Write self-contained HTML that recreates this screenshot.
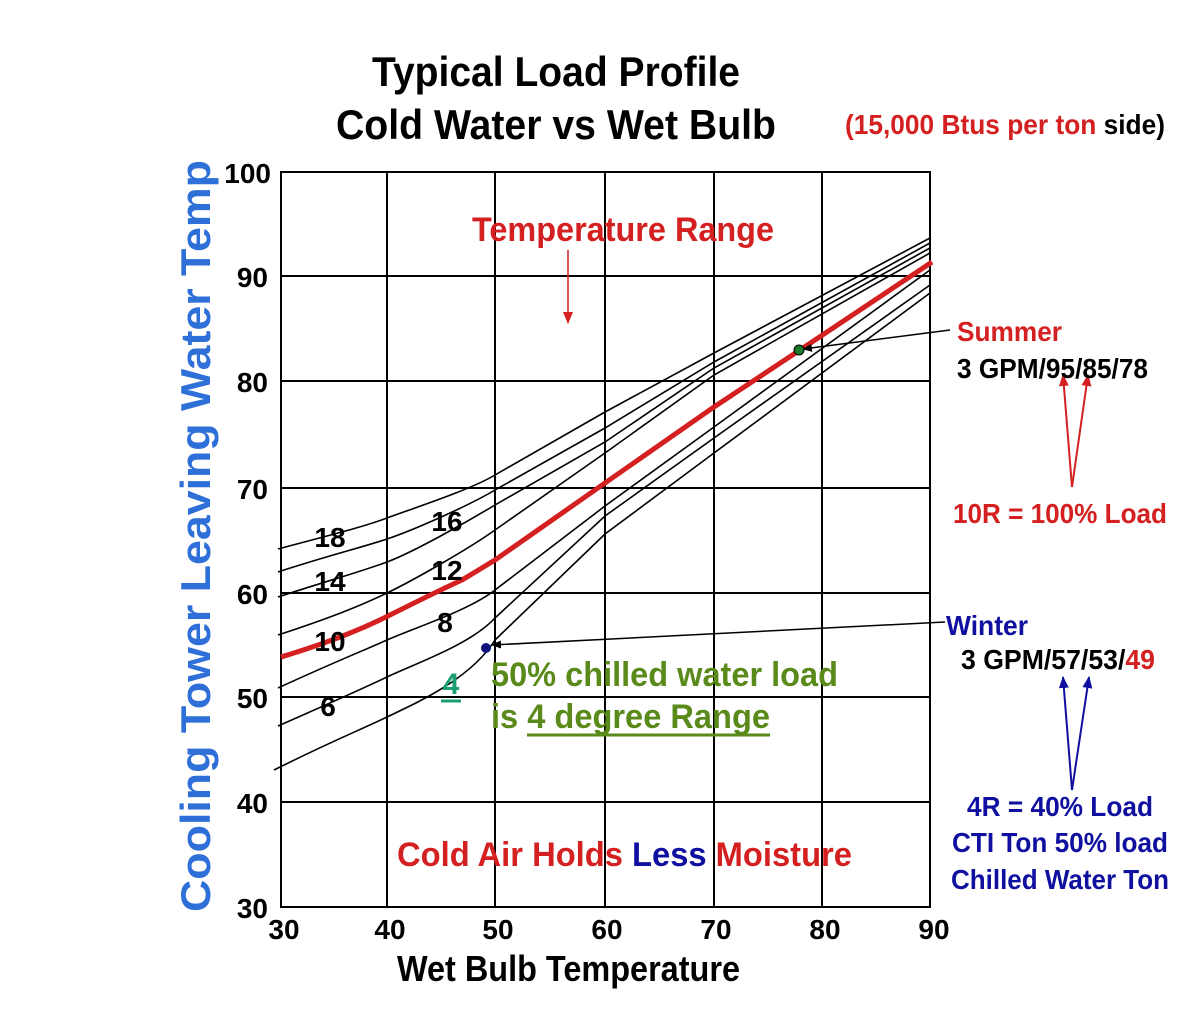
<!DOCTYPE html>
<html><head><meta charset="utf-8"><style>
html,body{margin:0;padding:0;background:#fff;}
svg{display:block;font-family:"Liberation Sans",Arial,sans-serif;font-weight:bold;}
</style></head><body>
<svg width="1180" height="1016" viewBox="0 0 1180 1016" xmlns="http://www.w3.org/2000/svg">
<defs>
<marker id="ab" markerWidth="10" markerHeight="8" refX="9" refY="4" orient="auto" markerUnits="userSpaceOnUse"><path d="M0,0 L10,4 L0,8 z" fill="#000"/></marker>
<marker id="ar" markerWidth="12" markerHeight="10" refX="11" refY="5" orient="auto" markerUnits="userSpaceOnUse"><path d="M0,0 L12,5 L0,10 z" fill="#d42020"/></marker>
<marker id="abl" markerWidth="12" markerHeight="10" refX="11" refY="5" orient="auto" markerUnits="userSpaceOnUse"><path d="M0,0 L12,5 L0,10 z" fill="#1010a0"/></marker>
</defs>
<rect width="1180" height="1016" fill="#fff"/>
<g stroke="#000" stroke-width="2" fill="none">
<rect x="281" y="172" width="649" height="735"/>
<line x1="387" y1="172" x2="387" y2="907"/>
<line x1="495" y1="172" x2="495" y2="907"/>
<line x1="605" y1="172" x2="605" y2="907"/>
<line x1="714" y1="172" x2="714" y2="907"/>
<line x1="822" y1="172" x2="822" y2="907"/>
<line x1="281" y1="276" x2="930" y2="276"/>
<line x1="281" y1="381" x2="930" y2="381"/>
<line x1="281" y1="488" x2="930" y2="488"/>
<line x1="281" y1="593" x2="930" y2="593"/>
<line x1="281" y1="697" x2="930" y2="697"/>
<line x1="281" y1="802" x2="930" y2="802"/>
</g>
<g stroke="#000" stroke-width="1.6" fill="none">
<path d="M278,549 C330,535 360,528 387,518 S470,490 495,475 L605,412 L714,353 L930,238"/>
<path d="M278,572 C330,555 360,548 387,539 S470,505 495,490 L605,428 L714,362 L930,243"/>
<path d="M278,597 C330,580 360,572 387,562 S470,520 495,505 L605,442 L714,368 L930,248"/>
<path d="M278,635 C330,618 360,606 387,593 S470,548 495,530 L605,453 L714,375 L930,253"/>
<path d="M278,688 C330,664 360,652 387,640 S470,610 495,590 L605,506 L714,427 L930,270"/>
<path d="M278,726 C330,703 360,690 387,677 S470,645 495,618 L605,516 L714,438 L930,285"/>
<path d="M274,770 C330,742 360,730 387,717 S470,680 495,640 L605,534 L714,453 L930,293"/>
</g>
<path d="M281,657 C330,642 360,630 390,615 S440,590 462,580 L495,560 L605,483 L714,407 L800,350 L932,262" stroke="#d42020" stroke-width="5" fill="none"/>
<g font-size="28" fill="#000" text-anchor="middle">
<text x="330" y="547">18</text><text x="330" y="591">14</text><text x="330" y="651">10</text><text x="328" y="716">6</text>
<text x="447" y="531">16</text><text x="447" y="580">12</text><text x="445" y="632">8</text>
</g>
<text x="451" y="694" font-size="30" fill="#1aa070" text-anchor="middle">4</text>
<line x1="441" y1="701" x2="461" y2="701" stroke="#1aa070" stroke-width="3"/>
<line x1="950" y1="330" x2="803" y2="349" stroke="#000" stroke-width="1.5" marker-end="url(#ab)"/>
<circle cx="799" cy="350" r="5" fill="#1a7a2a" stroke="#000" stroke-width="1"/>
<line x1="945" y1="622" x2="492" y2="645" stroke="#000" stroke-width="1.5" marker-end="url(#ab)"/>
<circle cx="486" cy="648" r="5" fill="#101080"/>
<line x1="568" y1="250" x2="568" y2="323" stroke="#d42020" stroke-width="1.5" marker-end="url(#ar)"/>
<g stroke="#d42020" stroke-width="2"><line x1="1072" y1="487" x2="1063" y2="375" marker-end="url(#ar)"/><line x1="1072" y1="487" x2="1088" y2="375" marker-end="url(#ar)"/></g>
<g stroke="#1010a0" stroke-width="2"><line x1="1072" y1="790" x2="1063" y2="677" marker-end="url(#abl)"/><line x1="1072" y1="790" x2="1089" y2="677" marker-end="url(#abl)"/></g>
<text x="372" y="86" font-size="42" textLength="368" lengthAdjust="spacingAndGlyphs">Typical Load Profile</text>
<text x="336" y="139" font-size="42" textLength="440" lengthAdjust="spacingAndGlyphs">Cold Water vs Wet Bulb</text>
<text x="845" y="134" font-size="28" textLength="320" lengthAdjust="spacingAndGlyphs"><tspan fill="#d42020">(15,000 Btus per ton </tspan><tspan fill="#000">side)</tspan></text>
<text transform="translate(210,536) rotate(-90)" text-anchor="middle" font-size="42" fill="#2f6fd8" textLength="752" lengthAdjust="spacingAndGlyphs">Cooling Tower Leaving Water Temp</text>
<g font-size="28" fill="#000" text-anchor="end">
<text x="271" y="183">100</text><text x="268" y="287">90</text><text x="268" y="392">80</text><text x="268" y="499">70</text>
<text x="268" y="604">60</text><text x="268" y="708">50</text><text x="268" y="813">40</text><text x="268" y="918">30</text>
</g>
<g font-size="28" fill="#000" text-anchor="middle">
<text x="284" y="939">30</text><text x="390" y="939">40</text><text x="498" y="939">50</text><text x="607" y="939">60</text>
<text x="716" y="939">70</text><text x="825" y="939">80</text><text x="934" y="939">90</text>
</g>
<text x="397" y="981" font-size="36" textLength="343" lengthAdjust="spacingAndGlyphs">Wet Bulb Temperature</text>
<text x="472" y="241" font-size="34" fill="#d42020" textLength="302" lengthAdjust="spacingAndGlyphs">Temperature Range</text>
<text x="397" y="866" font-size="34" textLength="455" lengthAdjust="spacingAndGlyphs"><tspan fill="#d42020">Cold Air Holds </tspan><tspan fill="#1010a0">Less </tspan><tspan fill="#d42020">Moisture</tspan></text>
<g fill="#5a8a1a" font-size="34">
<text x="491" y="686" textLength="347" lengthAdjust="spacingAndGlyphs">50% chilled water load</text>
<text x="491" y="728" textLength="279" lengthAdjust="spacingAndGlyphs">is 4 degree Range</text>
</g>
<line x1="527" y1="735" x2="770" y2="735" stroke="#5a8a1a" stroke-width="3"/>
<text x="957" y="341" font-size="28" fill="#d42020" textLength="105" lengthAdjust="spacingAndGlyphs">Summer</text>
<text x="957" y="378" font-size="28" fill="#000" textLength="191" lengthAdjust="spacingAndGlyphs">3 GPM/95/85/78</text>
<text x="953" y="523" font-size="28" fill="#d42020" textLength="214" lengthAdjust="spacingAndGlyphs">10R = 100% Load</text>
<text x="946" y="635" font-size="28" fill="#1010a0" textLength="82" lengthAdjust="spacingAndGlyphs">Winter</text>
<text x="961" y="669" font-size="28" textLength="194" lengthAdjust="spacingAndGlyphs"><tspan fill="#000">3 GPM/57/53/</tspan><tspan fill="#d42020">49</tspan></text>
<g fill="#1010a0" font-size="28">
<text x="967" y="816" textLength="186" lengthAdjust="spacingAndGlyphs">4R = 40% Load</text>
<text x="952" y="852" textLength="216" lengthAdjust="spacingAndGlyphs">CTI Ton 50% load</text>
<text x="951" y="889" textLength="218" lengthAdjust="spacingAndGlyphs">Chilled Water Ton</text>
</g>
</svg>
</body></html>
